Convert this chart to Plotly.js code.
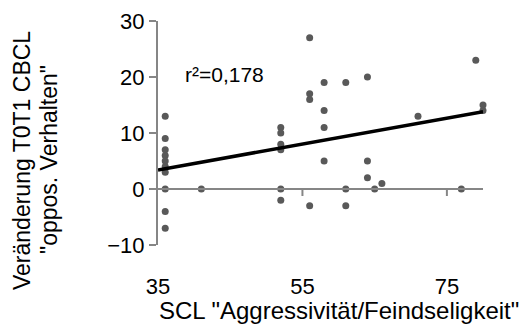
<!DOCTYPE html>
<html>
<head>
<meta charset="utf-8">
<script src="https://cdn.plot.ly/plotly-3.0.1.min.js"></script>
<style>html,body{margin:0;padding:0;background:#fff;}#chart{width:527px;height:331px;}</style>
</head>
<body>
<div id="chart"></div>
<script>
// Data
const sclX = [36,36,36,36,36,36,36,36,36,36, 41, 52,52,52,52,52,52, 56,56,56,56, 58,58,58,58, 61,61,61, 64,64,64, 65, 66, 71, 77, 79, 80,80];
const cbclY = [13,9,7,6,5,4,3,0,-4,-7, 0, 11,10,8,7,0,-2, 27,17,16,-3, 19,14,11,5, 19,0,-3, 20,5,2, 0, 1, 13, 0, 23, 15,14];
const trendX = [35, 80];
const trendY = [3.4, 13.8];
const xTicks = [35, 55, 75];
const yTicks = [-10, 0, 10, 20, 30];
const xTitle = 'SCL "Aggressivität/Feindseligkeit"';
const yTitle1 = 'Veränderung T0T1 CBCL';
const yTitle2 = '"oppos. Verhalten"';
const r2Label = 'r²=0,178';

const FONT = 'Liberation Sans, Arial, sans-serif';
const AX = 'rgb(134,134,134)';

const traces = [
  {x: sclX, y: cbclY, type: 'scatter', mode: 'markers', cliponaxis: false,
   marker: {color: '#595959', size: 7}, hoverinfo: 'skip'},
  {x: trendX, y: trendY, type: 'scatter', mode: 'lines', cliponaxis: false,
   line: {color: '#000000', width: 3.5}, hoverinfo: 'skip'}
];

// Horizontal axis line where y = 0 (Excel style) with downward tick marks
const shapes = [
  {type: 'line', layer: 'above', xref: 'x domain', x0: 0, x1: 1, yref: 'y', y0: 0, y1: 0,
   line: {color: AX, width: 2}}
].concat(xTicks.slice(1).map(v => ({
  type: 'line', layer: 'above', xref: 'x', x0: v, x1: v,
  yref: 'y', ysizemode: 'pixel', yanchor: 0, y0: 0, y1: -7,
  line: {color: AX, width: 2}
})));

const layout = {
  width: 527, height: 331,
  margin: {l: 158, r: 44, t: 21, b: 86},
  paper_bgcolor: '#ffffff', plot_bgcolor: 'rgba(0,0,0,0)',
  showlegend: false,
  font: {family: FONT, color: '#000000'},
  xaxis: {range: [35, 80], tickmode: 'array', tickvals: xTicks,
    showline: false, ticks: 'outside', ticklen: 22, tickcolor: 'rgba(0,0,0,0)',
    showgrid: false, zeroline: false,
    tickfont: {family: FONT, size: 22, color: '#000'}},
  yaxis: {range: [-10, 30], tickmode: 'array', tickvals: yTicks,
    ticksuffix: '\u00a0\u00a0\u00a0',
    showline: true, linecolor: AX, linewidth: 2,
    ticks: 'outside', ticklen: 7, tickwidth: 2, tickcolor: AX,
    showgrid: false, zeroline: true, zerolinecolor: AX, zerolinewidth: 2,
    tickfont: {family: FONT, size: 22, color: '#000'}},
  shapes: shapes,
  annotations: [
    {text: r2Label, xref: 'paper', yref: 'paper', x: 0.077, y: 0.763,
     xanchor: 'left', yanchor: 'middle', showarrow: false,
     font: {family: FONT, size: 21, color: '#000'}},
    {text: xTitle, xref: 'paper', yref: 'paper', x: 0.557, y: -0.292,
     xanchor: 'center', yanchor: 'middle', showarrow: false,
     font: {family: FONT, size: 24, color: '#000'}},
    {text: yTitle1, xref: 'paper', yref: 'paper', x: (22 - 158) / 325, y: (245 - 161) / 224,
     xanchor: 'center', yanchor: 'middle', showarrow: false, textangle: -90,
     font: {family: FONT, size: 23, color: '#000'}},
    {text: yTitle2, xref: 'paper', yref: 'paper', x: (49 - 158) / 325, y: (245 - 160) / 224,
     xanchor: 'center', yanchor: 'middle', showarrow: false, textangle: -90,
     font: {family: FONT, size: 23, color: '#000'}}
  ]
};

Plotly.newPlot('chart', traces, layout, {displayModeBar: false});
</script>
</body>
</html>
